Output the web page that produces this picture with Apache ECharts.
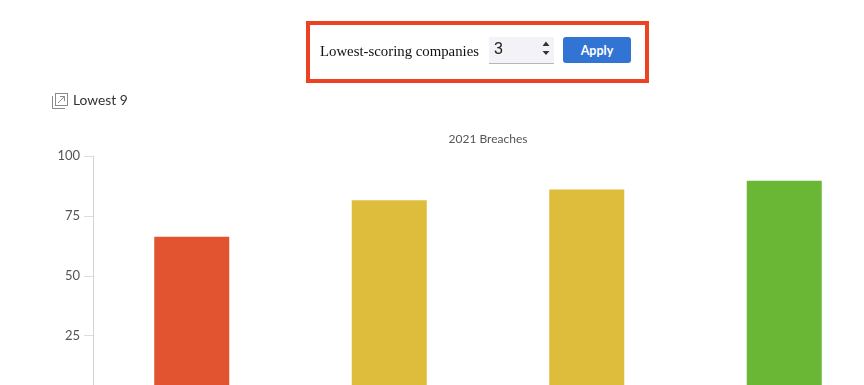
<!DOCTYPE html>
<html lang="en">
<head>
    <meta charset="utf-8">
    <title>Lowest 9</title>
    <style>
        html, body {
            margin: 0;
            padding: 0;
            width: 864px;
            height: 385px;
            overflow: hidden;
            background: #fff;
        }

        #filter-box {
            position: absolute;
            left: 306px;
            top: 21px;
            width: 335px;
            height: 54px;
            border: 4px solid #ee4023;
        }

        #filter-label {
            position: absolute;
            left: 10px;
            top: 16px;
            font: 14.8px/20px "Liberation Serif", serif;
            color: #111;
            white-space: nowrap;
        }

        #filter-input {
            position: absolute;
            left: 179px;
            top: 12px;
            width: 65px;
            height: 26px;
            background: #f3f3f7;
            border-bottom: 1px solid #b4b4c2;
            font: 16px/24px "Liberation Sans", sans-serif;
            color: #222;
        }

        #filter-input span {
            position: absolute;
            left: 5px;
            top: 0;
        }

        #filter-input svg {
            position: absolute;
            left: 51px;
            top: 2px;
        }

        #filter-apply {
            position: absolute;
            left: 253px;
            top: 12px;
            width: 68px;
            height: 26px;
            background: #3174d3;
            border-radius: 3px;
            color: #fff;
            text-align: center;
            font: bold 12.5px/27px Lato, sans-serif;
        }

        #chart-title {
            position: absolute;
            left: 73px;
            top: 91px;
            font: 13.8px/18px Lato, sans-serif;
            color: #333;
        }

        #chart-icon {
            position: absolute;
            left: 52px;
            top: 93px;
        }

        #chart {
            position: absolute;
            left: 0;
            top: 0;
            width: 900px;
            height: 430px;
        }
    </style>
</head>

<body>
    <div id="chart"></div>

    <div id="filter-box">
        <div id="filter-label">Lowest-scoring companies</div>
        <div id="filter-input">
            <span>3</span>
            <svg width="12" height="20" viewBox="0 0 12 20">
                <path d="M6 2.5 L9.5 7 L2.5 7 Z M6 16 L9.5 12 L2.5 12 Z" fill="#333"></path>
            </svg>
        </div>
        <div id="filter-apply">Apply</div>
    </div>

    <svg id="chart-icon" width="16" height="16" viewBox="0 0 16 16" fill="none" stroke="#8a8a8a" stroke-width="1">
        <rect x="3.5" y="0.5" width="12" height="12"></rect>
        <path d="M0.5 3 V15.5 H13"></path>
        <path d="M6 10 L12.5 3.5 M8 3.5 H12.5 V8"></path>
    </svg>
    <div id="chart-title">Lowest 9</div>

    <script src="https://cdn.jsdelivr.net/npm/echarts@6/dist/echarts.min.js"></script>
    <script>
        var categories = ['Company A', 'Company B', 'Company C', 'Company D'];
        var scores = [66.3, 81.5, 86, 89.7];
        var barColors = ['#e2532f', '#debd3d', '#debd3d', '#69b735'];
        var yTicks = [0, 25, 50, 75, 100];

        var myChart = echarts.init(document.getElementById('chart'));

        myChart.setOption({
            animation: false,
            textStyle: { fontFamily: 'Lato' },
            title: {
                text: '2021 Breaches',
                left: 483,
                top: 128,
                textAlign: 'center',
                textStyle: { fontSize: 12, fontWeight: 'normal', color: '#555' }
            },
            grid: { left: 93, top: 156, width: 790, height: 239.5 },
            xAxis: {
                type: 'category',
                data: categories,
                axisLine: { lineStyle: { color: '#ddd' } },
                axisTick: { show: false },
                axisLabel: { show: false }
            },
            yAxis: {
                type: 'value',
                min: yTicks[0],
                max: yTicks[yTicks.length - 1],
                interval: 25,
                splitLine: { show: false },
                axisLine: { show: true, lineStyle: { color: '#d4d4d4', width: 1 } },
                axisTick: { show: true, length: 9, lineStyle: { color: '#ddd' } },
                axisLabel: { fontSize: 13, color: '#555', margin: 13 }
            },
            series: [{
                type: 'bar',
                barWidth: 75,
                data: scores.map(function (v, i) {
                    return { value: v, itemStyle: { color: barColors[i] } };
                })
            }]
        });
    </script>
</body>
</html>
